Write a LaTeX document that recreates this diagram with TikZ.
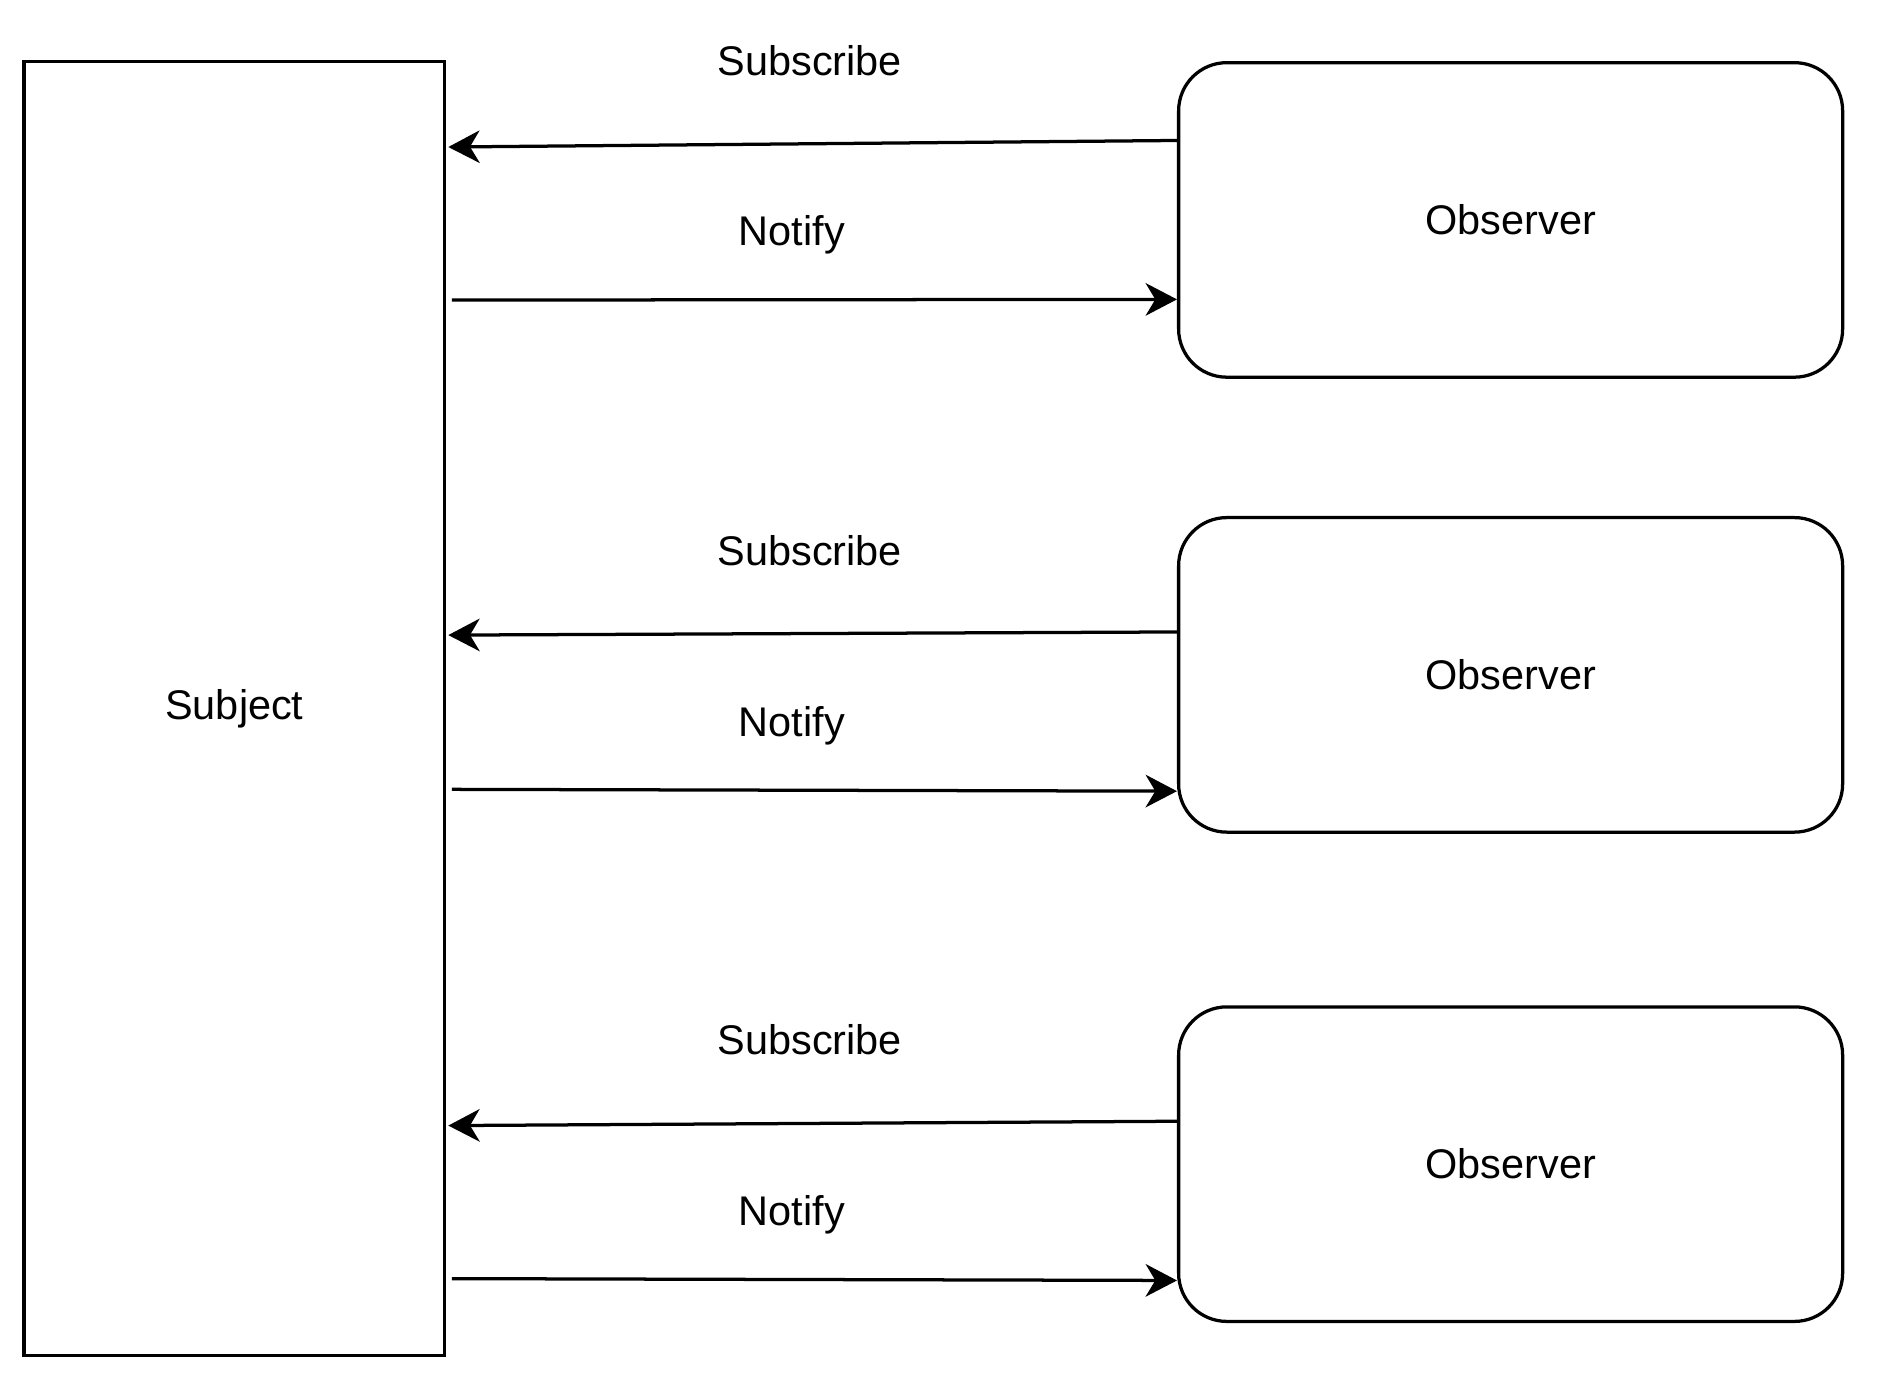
\documentclass[tikz,border=0pt]{standalone}
\usepackage{fontspec}
\setmainfont{Liberation Sans}
\usetikzlibrary{arrows.meta,calc}
\begin{document}
\begin{tikzpicture}[x=0.5pt,y=-0.5pt,
  box/.style={draw,line width=1.35pt,inner sep=0pt,font=\fontsize{17.2}{20}\selectfont},
  obsbox/.style={box,rounded corners=20pt,minimum width=275.5pt,minimum height=130.5pt},
  lbl/.style={font=\fontsize{17.2}{20}\selectfont,inner sep=0pt},
  arr/.style={line width=1.35pt,-{Stealth[length=13pt,width=13.5pt,inset=4pt]}}]
\useasboundingbox (0,0) rectangle (1560,1148.4);
\node[box,minimum width=174.5pt,minimum height=537pt] (subj) at (194.5,588) {Subject};
\node[obsbox] (o1) at (1253.5,182.5) {Observer};
\node[obsbox] (o2) at (1253.5,560) {Observer};
\node[obsbox] (o3) at (1253.5,966) {Observer};
\node[lbl] (s1) at (672,50) {Subscribe};
\node[lbl] (n1) at (657,195) {Notify};
\node[lbl] (s2) at (672,457) {Subscribe};
\node[lbl] (n2) at (657,602) {Notify};
\node[lbl] (s3) at (672,863) {Subscribe};
\node[lbl] (n3) at (657,1008) {Notify};
\coordinate (a1) at (372,122);
\coordinate (b1) at (375,249);
\coordinate (a2) at (372,527);
\coordinate (b2) at (375,655);
\coordinate (a3) at (372,934);
\coordinate (b3) at (375,1061);
\draw[arr] ($(o1.north west)!0.25!(o1.south west)$) -- (a1);
\draw[arr] (b1) -- ($(o1.north west)!0.75!(o1.south west)$);
\draw[arr] ($(o2.north west)!0.365!(o2.south west)$) -- (a2);
\draw[arr] (b2) -- ($(o2.north west)!0.866!(o2.south west)$);
\draw[arr] ($(o3.north west)!0.365!(o3.south west)$) -- (a3);
\draw[arr] (b3) -- ($(o3.north west)!0.866!(o3.south west)$);
\end{tikzpicture}
\end{document}
